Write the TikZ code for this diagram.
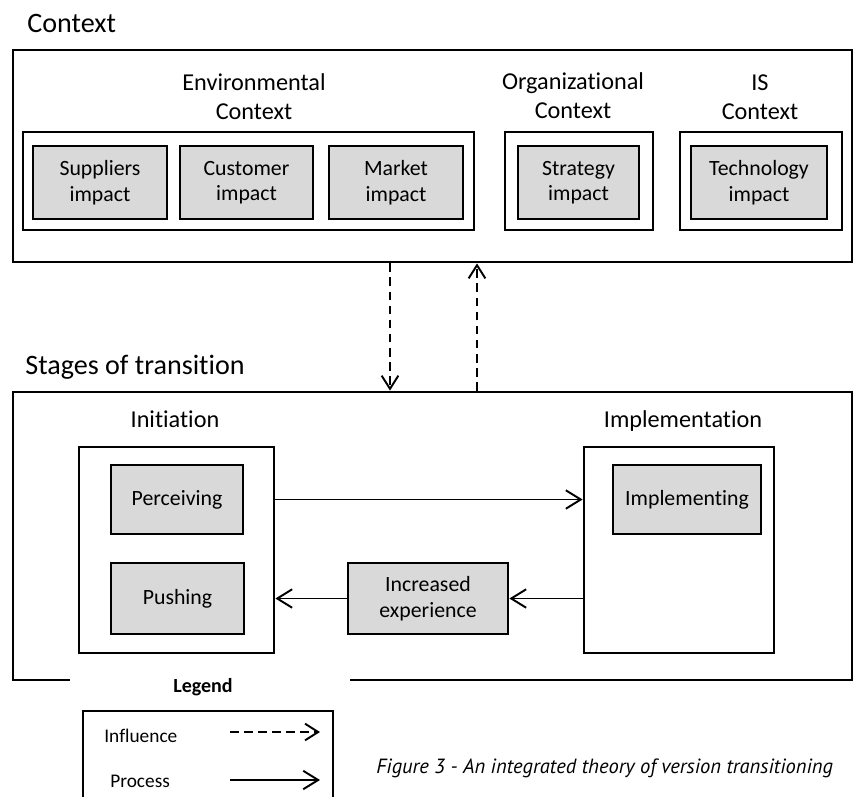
\documentclass[tikz,border=0pt]{standalone}
\usepackage{fontspec}
\setmainfont{Carlito}[RawFeature={-liga;-clig;-calt;-dlig}]
\newfontfamily\capfont{PT Sans}
\usetikzlibrary{arrows.meta}
\definecolor{factorgray}{RGB}{217,217,217}

\begin{document}
\begin{tikzpicture}[x=0.02cm,y=-0.02cm,
    outer/.style={draw,line width=1.6pt,inner sep=0pt},
    grp/.style={draw,line width=1.6pt,fill=white,inner sep=0pt},
    factor/.style={draw,line width=1.6pt,fill=factorgray,align=center,inner sep=0pt,
        font=\fontsize{12.4}{14.5}\selectfont},
    heading/.style={font=\fontsize{16}{19}\selectfont,inner sep=0pt,anchor=base west},
    grplabel/.style={font=\fontsize{13.8}{16.6}\selectfont,align=center,inner sep=0pt},
    legtext/.style={font=\fontsize{11}{13}\selectfont,inner sep=0pt,anchor=base west},
    infl/.style={dash pattern=on 5pt off 3pt,line width=1.1pt,-{Straight Barb[length=7.5pt,width=9.5pt]}},
    proc/.style={line width=1.1pt,-{Straight Barb[length=8.5pt,width=10.5pt]}}]
    \useasboundingbox (0,0) rectangle (856,796);

    \node[heading] (ctxtitle) at (27,32) {Context};
    \node[outer, minimum width=16.78cm, minimum height=4.24cm] (ctx) at (432.5,156) {};

    \node[grp, minimum width=9.02cm, minimum height=1.96cm] (envgrp) at (248.5,181) {};
    \node[grp, minimum width=2.96cm, minimum height=1.96cm] (orggrp) at (579,181) {};
    \node[grp, minimum width=3.24cm, minimum height=1.96cm] (isgrp) at (761,181) {};

    \node[grplabel, anchor=south] (envlbl) at (254,120) {Environmental\\Context};
    \node[grplabel, anchor=south] (orglbl) at (573,119) {Organizational\\Context};
    \node[grplabel, anchor=south] (islbl) at (760,120) {IS\\Context};

    \node[factor, minimum width=2.68cm, minimum height=1.46cm] (suppliers) at (100,182.5) {Suppliers\\impact};
    \node[factor, minimum width=2.66cm, minimum height=1.46cm] (customer) at (246.5,182.5) {Customer\\impact};
    \node[factor, minimum width=2.68cm, minimum height=1.46cm] (market) at (396,182.5) {Market\\impact};
    \node[factor, minimum width=2.42cm, minimum height=1.46cm] (strategy) at (578.5,182.5) {Strategy\\impact};
    \node[factor, minimum width=2.72cm, minimum height=1.46cm] (technology) at (759,182.5) {Technology\\impact};

    \node[heading] (stgtitle) at (25,374) {Stages of transition};
    \node[outer, minimum width=16.78cm, minimum height=5.76cm] (stg) at (432.5,536) {};

    \node[grplabel, anchor=base] (initlbl) at (175,427) {Initiation};
    \node[grplabel, anchor=base] (impllbl) at (683,427) {Implementation};
    \node[grp, minimum width=3.9cm, minimum height=4.12cm] (initgrp) at (176.5,550) {};
    \node[grp, minimum width=3.8cm, minimum height=4.12cm] (implgrp) at (679,550) {};

    \node[factor, minimum width=2.64cm, minimum height=1.38cm] (perceiving) at (177,499.5) {Perceiving};
    \node[factor, minimum width=2.66cm, minimum height=1.42cm] (pushing) at (177.5,598.5) {Pushing};
    \node[factor, minimum width=2.96cm, minimum height=1.38cm] (implementing) at (687,499.5) {Implementing};
    \node[factor, minimum width=3.2cm, minimum height=1.42cm] (experience) at (428,598.5) {Increased\\experience};

    \draw[proc] (initgrp.east |- perceiving) -- (implgrp.west |- perceiving);
    \draw[proc] (implgrp.west |- experience) -- (experience.east);
    \draw[proc] (experience.west) -- (initgrp.east |- experience);

    \coordinate (down) at (390,0);
    \coordinate (up) at (477,0);
    \draw[infl] (ctx.south -| down) -- (stg.north -| down);
    \draw[infl] (stg.north -| up) -- (ctx.south -| up);

    \fill[white] (70,665) rectangle (350,700);
    \node[font=\bfseries\fontsize{11.4}{13}\selectfont, inner sep=0pt, anchor=base] (legtitle) at (203,692) {Legend};
    \node[outer, minimum width=5cm, minimum height=1.98cm] (legbox) at (208,760.5) {};
    \node[legtext] (inflabel) at (104,742) {Influence};
    \node[legtext] (proclabel) at (110,787) {Process};
    \coordinate (infa) at (230,732);
    \coordinate (infb) at (320,732);
    \coordinate (proa) at (230,780);
    \coordinate (prob) at (320,780);
    \draw[infl] (infa) -- (infb);
    \draw[proc] (proa) -- (prob);

    \node[font=\capfont\itshape\fontsize{11.7}{13}\selectfont, inner sep=0pt, anchor=base west] (caption) at (376,773)
        {Figure 3 - An integrated theory of version transitioning};
\end{tikzpicture}
\end{document}
